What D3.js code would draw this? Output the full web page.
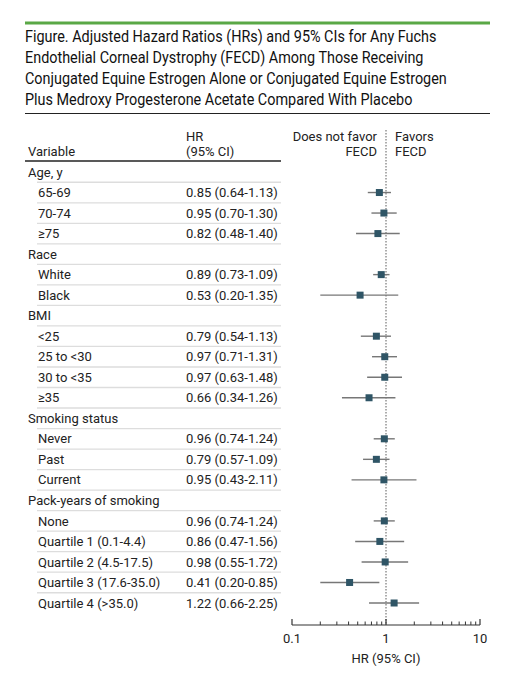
<!DOCTYPE html>
<html>
<head>
    <meta charset="utf-8">
    <title>Forest plot FECD</title>
    <script src="https://d3js.org/d3.v7.min.js"></script>
    <style>
        body { margin: 0; background: #fff; }
        svg text { font-family: Roboto, "Noto Sans", sans-serif; fill: #222; }
        .title { font-size: 16px; fill: #111; }
        .cell { font-size: 13px; }
    </style>
</head>
<body>
    <script>
        // rows of the table, top to bottom
        var labels = ["Age, y", "65-69", "70-74", "\u226575", "Race", "White", "Black", "BMI", "<25", "25 to <30", "30 to <35", "\u226535",
            "Smoking status", "Never", "Past", "Current", "Pack-years of smoking", "None", "Quartile 1 (0.1-4.4)", "Quartile 2 (4.5-17.5)",
            "Quartile 3 (17.6-35.0)", "Quartile 4 (>35.0)"];
        var isGroup = [1, 0, 0, 0, 1, 0, 0, 1, 0, 0, 0, 0, 1, 0, 0, 0, 1, 0, 0, 0, 0, 0];
        var hr = [null, 0.85, 0.95, 0.82, null, 0.89, 0.53, null, 0.79, 0.97, 0.97, 0.66, null, 0.96, 0.79, 0.95, null, 0.96, 0.86, 0.98, 0.41, 1.22];
        var lo = [null, 0.64, 0.70, 0.48, null, 0.73, 0.20, null, 0.54, 0.71, 0.63, 0.34, null, 0.74, 0.57, 0.43, null, 0.74, 0.47, 0.55, 0.20, 0.66];
        var hi = [null, 1.13, 1.30, 1.40, null, 1.09, 1.35, null, 1.13, 1.31, 1.48, 1.26, null, 1.24, 1.09, 2.11, null, 1.24, 1.56, 1.72, 0.85, 2.25];
        var axisTicks = [0.1, 1, 10];
        var titleLines = [
            "Figure. Adjusted Hazard Ratios (HRs) and 95% CIs for Any Fuchs",
            "Endothelial Corneal Dystrophy (FECD) Among Those Receiving",
            "Conjugated Equine Estrogen Alone or Conjugated Equine Estrogen",
            "Plus Medroxy Progesterone Acetate Compared With Placebo"
        ];

        var width = 509, height = 680;
        var svg = d3.select("body").append("svg")
            .attr("width", width)
            .attr("height", height);

        // top green rule and title
        svg.append("rect").attr("x", 25).attr("y", 21.5).attr("width", 465).attr("height", 3).attr("fill", "#5aa846");
        // the original face is narrower, so squeeze the title a little
        svg.append("g").attr("transform", "translate(25,0) scale(0.9,1)")
            .selectAll(".title").data(titleLines).enter().append("text")
            .attr("class", "title")
            .attr("x", 0)
            .attr("y", function(d, i) { return 42.5 + i * 20.7; })
            .text(function(d) { return d; });
        svg.append("line").attr("x1", 25).attr("x2", 490).attr("y1", 113.5).attr("y2", 113.5)
            .attr("stroke", "#222").attr("stroke-width", 1.2);

        var x = d3.scaleLog().domain([0.1, 10]).range([292, 480]);
        var y = d3.scaleLinear().domain([0, labels.length - 1]).range([172, 603]);
        var step = y(1) - y(0);

        // column headers
        svg.append("text").attr("class", "cell").attr("x", 28).attr("y", 155.5).text("Variable");
        svg.append("text").attr("class", "cell").attr("x", 186).attr("y", 140.5).text("HR");
        svg.append("text").attr("class", "cell").attr("x", 186).attr("y", 155.5).text("(95% CI)");
        svg.append("text").attr("class", "cell").attr("x", 377).attr("y", 140.5).attr("text-anchor", "end").text("Does not favor");
        svg.append("text").attr("class", "cell").attr("x", 377).attr("y", 155.5).attr("text-anchor", "end").text("FECD");
        svg.append("text").attr("class", "cell").attr("x", 395).attr("y", 140.5).text("Favors");
        svg.append("text").attr("class", "cell").attr("x", 395).attr("y", 155.5).text("FECD");
        svg.append("line").attr("x1", 25).attr("x2", 281).attr("y1", 161).attr("y2", 161)
            .attr("stroke", "#222").attr("stroke-width", 1.5);

        // row separators
        svg.selectAll(".sep").data(d3.range(labels.length - 1)).enter().append("line")
            .attr("class", "sep")
            .attr("x1", 37).attr("x2", 281)
            .attr("y1", function(i) { return y(i) + step / 2; })
            .attr("y2", function(i) { return y(i) + step / 2; })
            .attr("stroke", "#ddd").attr("stroke-width", 1.3);

        // row labels
        svg.selectAll(".lab").data(labels).enter().append("text")
            .attr("class", "cell")
            .attr("x", function(d, i) { return isGroup[i] ? 28 : 38; })
            .attr("y", function(d, i) { return y(i) + 4.6; })
            .text(function(d) { return d; });

        var rows = d3.range(labels.length).filter(function(i) { return hr[i] != null; });

        svg.selectAll(".val").data(rows).enter().append("text")
            .attr("class", "cell")
            .attr("x", 186)
            .attr("y", function(i) { return y(i) + 4.6; })
            .text(function(i) { return hr[i].toFixed(2) + " (" + lo[i].toFixed(2) + "-" + hi[i].toFixed(2) + ")"; });

        // reference line at HR = 1
        svg.append("line")
            .attr("x1", x(1)).attr("x2", x(1))
            .attr("y1", 130).attr("y2", 625)
            .attr("stroke", "#777").attr("stroke-width", 1.2).attr("stroke-dasharray", "1.5,1.5");

        // CIs and points
        svg.selectAll(".ci").data(rows).enter().append("line")
            .attr("x1", function(i) { return x(lo[i]); })
            .attr("x2", function(i) { return x(hi[i]); })
            .attr("y1", function(i) { return y(i); })
            .attr("y2", function(i) { return y(i); })
            .attr("stroke", "#777").attr("stroke-width", 1.4);
        svg.selectAll(".pt").data(rows).enter().append("rect")
            .attr("x", function(i) { return x(hr[i]) - 3.5; })
            .attr("y", function(i) { return y(i) - 3.5; })
            .attr("width", 7).attr("height", 7)
            .attr("fill", "#2f5566");

        // log axis with upward ticks
        var axisY = 625;
        var g = svg.append("g").attr("transform", "translate(0," + axisY + ")");
        g.append("line").attr("x1", x(0.1)).attr("x2", x(10)).attr("stroke", "#333").attr("stroke-width", 1.2);
        var minor = x.ticks().filter(function(t) { return axisTicks.indexOf(t) < 0; });
        g.selectAll(".minor").data(minor).enter().append("line")
            .attr("x1", x).attr("x2", x).attr("y1", 0).attr("y2", -3.5)
            .attr("stroke", "#333");
        g.selectAll(".major").data(axisTicks).enter().append("line")
            .attr("x1", x).attr("x2", x).attr("y1", 0).attr("y2", -6)
            .attr("stroke", "#333").attr("stroke-width", 1.2);
        g.selectAll(".tl").data(axisTicks).enter().append("text")
            .attr("class", "cell")
            .attr("x", x).attr("y", 18)
            .attr("text-anchor", "middle")
            .text(function(d) { return d3.format("")(d); });
        svg.append("text").attr("class", "cell").attr("x", x(1)).attr("y", 663)
            .attr("text-anchor", "middle").text("HR (95% CI)");
    </script>
</body>
</html>
